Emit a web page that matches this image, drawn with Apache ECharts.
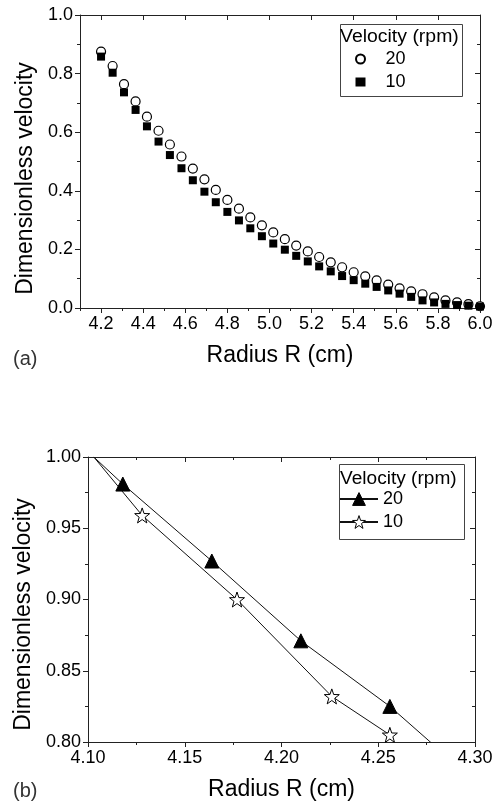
<!DOCTYPE html>
<html><head><meta charset="utf-8">
<script src="https://cdn.jsdelivr.net/npm/echarts@6/dist/echarts.min.js"></script>
<style>html,body{margin:0;padding:0;background:#fff}#c{width:500px;height:807px}</style>
</head><body><div id="c"></div>
<script>
// ---------- Panel (a) data ----------
const radiusA = [4.200,4.255,4.309,4.364,4.418,4.473,4.527,4.582,4.636,4.691,4.745,4.800,4.855,4.909,4.964,5.018,5.073,5.127,5.182,5.236,5.291,5.345,5.400,5.455,5.509,5.564,5.618,5.673,5.727,5.782,5.836,5.891,5.945,6.000];
const vel20A = [0.875,0.826,0.764,0.705,0.653,0.605,0.558,0.517,0.476,0.439,0.403,0.369,0.339,0.309,0.282,0.258,0.235,0.213,0.193,0.174,0.156,0.139,0.122,0.108,0.094,0.080,0.067,0.057,0.047,0.036,0.026,0.019,0.013,0.006];
const vel10A = [0.858,0.803,0.736,0.676,0.620,0.568,0.522,0.477,0.436,0.397,0.361,0.328,0.299,0.272,0.245,0.220,0.199,0.178,0.159,0.142,0.125,0.109,0.095,0.083,0.072,0.060,0.049,0.038,0.026,0.019,0.014,0.010,0.008,0.005];
const xTicksA = [4.2,4.4,4.6,4.8,5.0,5.2,5.4,5.6,5.8,6.0];
const xMinorA = [4.1,4.3,4.5,4.7,4.9,5.1,5.3,5.5,5.7,5.9];
const yTicksA = [0.0,0.2,0.4,0.6,0.8,1.0];
const yMinorA = [0.1,0.3,0.5,0.7,0.9];

// ---------- Panel (b) data ----------
const radius20B = [4.103,4.118,4.164,4.210,4.256,4.302];
const vel20B    = [1.000,0.981,0.927,0.871,0.825,0.770];
const radius10B = [4.103,4.128,4.177,4.226,4.256];
const vel10B    = [1.000,0.959,0.900,0.832,0.805];
const xTicksB = [4.10,4.15,4.20,4.25,4.30];
const xMinorB = [4.125,4.175,4.225,4.275];
const yTicksB = [0.80,0.85,0.90,0.95,1.00];
const yMinorB = [0.825,0.875,0.925,0.975];

const seriesLabels = {a20:'20', a10:'10', b20:'20', b10:'10'};
const legendTitle = 'Velocity (rpm)';
const xTitle = 'Radius R (cm)';
const yTitle = 'Dimensionless velocity';

const FONT = '"Liberation Sans", Arial, Helvetica, sans-serif';
const AX = '#222';

function axesFor(dim, g, min, max, majors, minors, dec, name, nameGap, namePad) {
  const isX = dim === 'x';
  const posMain = isX ? 'bottom' : 'left';
  const posMirror = isX ? 'top' : 'right';
  const base = {type:'value', gridIndex:g, min:min, max:max, splitLine:{show:false}, scale:true};
  const line = {show:true, onZero:false, lineStyle:{color:AX, width:1}};
  const tick = (vals, len, inside) => ({show:true, inside:inside, length:len, customValues:vals, lineStyle:{color:AX, width:1}});
  return [
    Object.assign({}, base, {
      position: posMain, axisLine: line, axisTick: tick(majors, 5, false),
      axisLabel: {show:true, customValues:majors, formatter: v => Number(v).toFixed(dec),
                  fontSize:18, color:'#000', fontFamily:FONT, margin:7},
      name: name, nameLocation:'middle', nameGap: nameGap,
      nameTextStyle: {fontSize:23, color:'#000', fontFamily:FONT, padding: namePad}
    }),
    Object.assign({}, base, {position: posMain, axisLine:{show:false}, axisTick: tick(minors, 3, false), axisLabel:{show:false}}),
    Object.assign({}, base, {position: posMirror, axisLine: line, axisTick: tick(majors, 5, true), axisLabel:{show:false}}),
    Object.assign({}, base, {position: posMirror, axisLine:{show:false}, axisTick: tick(minors, 3, true), axisLabel:{show:false}})
  ];
}

const xAxes = [].concat(
  axesFor('x', 0, 4.1, 6.0, xTicksA, xMinorA, 1, xTitle, 36, 0),
  axesFor('x', 1, 4.1, 4.3, xTicksB, xMinorB, 2, xTitle, 36, 0)
);
const yAxes = [].concat(
  axesFor('y', 0, 0, 1.0, yTicksA, yMinorA, 1, yTitle, 43, [0,34,0,0]),
  axesFor('y', 1, 0.8, 1.0, yTicksB, yMinorB, 2, yTitle, 51, [0,30,0,0])
);

function pairs(xs, ys) { return xs.map((x, i) => [x, ys[i]]); }
function linePts(xs, ys) {
  return xs.map((x, i) => i === 0 ? {value:[x, ys[i]], symbol:'none'} : [x, ys[i]]);
}

const option = {
  backgroundColor: '#fff',
  animation: false,
  grid: [
    {left:80, top:15, width:400, height:293},
    {left:88, top:457, width:387, height:285}
  ],
  xAxis: xAxes,
  yAxis: yAxes,
  legend: [
    {data:[{name:'a20', icon:'circle'}, {name:'a10', icon:'rect'}],
     orient:'vertical', left:355, top:50, padding:0, itemGap:5,
     itemWidth:10, itemHeight:9, formatter: n => seriesLabels[n],
     textStyle:{fontSize:18, lineHeight:18, color:'#000', fontFamily:FONT, padding:[0,0,0,15]}},
    {data:['b20','b10'],
     orient:'vertical', left:339, top:490, padding:0, itemGap:5,
     itemWidth:38, itemHeight:16, formatter: n => seriesLabels[n],
     itemStyle:{borderWidth:1},
     textStyle:{fontSize:18, lineHeight:18, color:'#000', fontFamily:FONT}}
  ],
  graphic: [
    {type:'rect', left:338, top:22, shape:{width:122, height:72}, style:{fill:'none', stroke:'#444', lineWidth:1}, z:100},
    {type:'text', x:340, y:28, scaleX:1.08, style:{text:legendTitle, font:'18px ' + FONT, fill:'#000'}, z:100},
    {type:'rect', left:337, top:462, shape:{width:125, height:75}, style:{fill:'none', stroke:'#444', lineWidth:1}, z:100},
    {type:'text', x:340, y:470, scaleX:1.06, style:{text:legendTitle, font:'18px ' + FONT, fill:'#000'}, z:100},
    {type:'text', left:13, top:349, style:{text:'(a)', font:'20px ' + FONT, fill:'#333'}},
    {type:'text', left:13, top:781, style:{text:'(b)', font:'20px ' + FONT, fill:'#333'}}
  ],
  series: [
    {name:'a20', type:'scatter', xAxisIndex:0, yAxisIndex:0, data:pairs(radiusA, vel20A),
     symbol:'circle', symbolSize:9, itemStyle:{color:'#fff', borderColor:'#000', borderWidth:1.2, opacity:1}},
    {name:'a10', type:'scatter', xAxisIndex:0, yAxisIndex:0, data:pairs(radiusA, vel10A),
     symbol:'rect', symbolSize:8, itemStyle:{color:'#000', borderColor:'#000', borderWidth:0, opacity:1}},
    {name:'b20', type:'line', xAxisIndex:4, yAxisIndex:4, data:linePts(radius20B, vel20B), clip:true,
     symbol:'triangle', symbolSize:14, showAllSymbol:true,
     lineStyle:{color:'#111', width:1}, itemStyle:{color:'#000', borderColor:'#000', borderWidth:1}},
    {name:'b10', type:'line', xAxisIndex:4, yAxisIndex:4, data:linePts(radius10B, vel10B), clip:true,
     symbol:'path://M0,-10 L2.35,-3.24 L9.51,-3.09 L3.8,1.24 L5.88,8.09 L0,4 L-5.88,8.09 L-3.8,1.24 L-9.51,-3.09 L-2.35,-3.24 Z',
     symbolSize:15, showAllSymbol:true,
     lineStyle:{color:'#111', width:1}, itemStyle:{color:'#fff', borderColor:'#000', borderWidth:1}}
  ]
};

const chart = echarts.init(document.getElementById('c'), null, {renderer:'canvas'});
chart.setOption(option);
</script>
</body></html>
